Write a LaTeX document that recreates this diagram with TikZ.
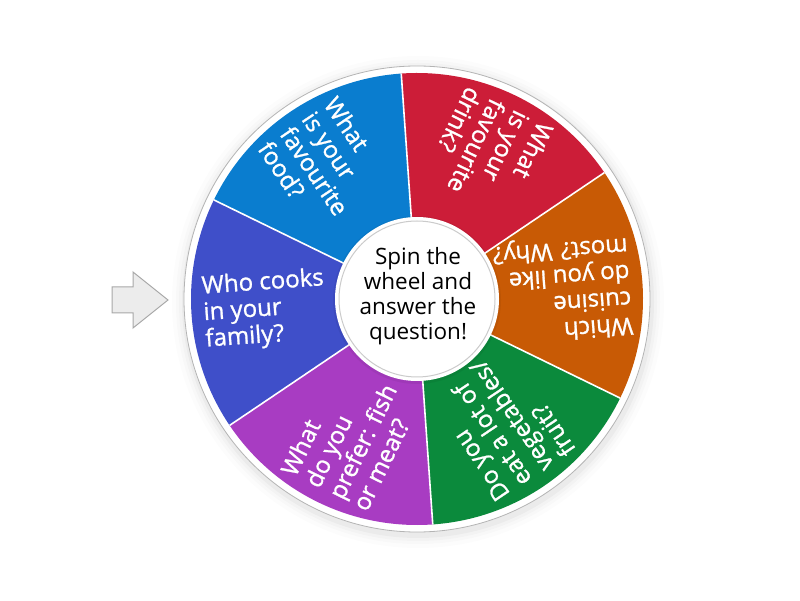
\documentclass[tikz,border=0pt]{standalone}
\usepackage{fontspec}
\setmainfont{Open Sans}
\newfontfamily\qfont{Open Sans}[FakeBold=1.1]
\definecolor{cblue}{HTML}{0A7DCF}
\definecolor{cred}{HTML}{CC1D38}
\definecolor{corange}{HTML}{C85A05}
\definecolor{cgreen}{HTML}{0B8A3C}
\definecolor{cpurple}{HTML}{A83CC2}
\definecolor{cviolet}{HTML}{3F4FC9}
\definecolor{arrowfill}{HTML}{ECECEC}
\definecolor{arrowline}{HTML}{A8A8A8}
\definecolor{ringline}{HTML}{B4B4B4}
\tikzset{
  qtext/.style={text=white, align=left, anchor=west, inner sep=0pt,
    font=\qfont\fontsize{24}{26.5}\selectfont},
  ctext/.style={text=black, align=center, inner sep=0pt,
    font=\fontsize{22.5}{25}\selectfont},
  sepline/.style={draw=white, line width=1.6pt},
}
\begin{document}
\begin{tikzpicture}[x=1pt,y=1pt]
\useasboundingbox (0,0) rectangle (800,600);
\fill[white] (0,0) rectangle (800,600);
% pointer arrow
\draw[fill=arrowfill, draw=arrowline, line width=1pt, line join=miter]
  (112,313) -- (133,313) -- (133,328) -- (168,300) -- (133,272) -- (133,287) -- (112,287) -- cycle;
\begin{scope}[shift={(417,301)}]
  % soft shadow
  \foreach \r/\o in {246/0.012,242/0.015,239/0.02,236/0.03}{
    \fill[black, opacity=\o] (1,-3) circle (\r);
  }
  \fill[white] (0,0) circle (233);
  \draw[ringline, line width=0.8pt] (0,0) circle (233);
  % sectors
  \foreach \a/\c in {94/cblue,34/cred,-26/corange,-86/cgreen,-146/cpurple,154/cviolet}{
    \fill[\c] (0,0) -- (\a:226) arc[start angle=\a, delta angle=60, radius=226] -- cycle;
  }
  \foreach \a in {94,34,-26,-86,-146,154}{
    \draw[sepline] (0,0) -- (\a:226);
  }
  % centre
  \fill[black, opacity=0.05] (0,-1) circle (84);
  \fill[white] (0,0) circle (82);
  \draw[draw=ringline!70, fill=white, line width=1pt] (0,0) circle (78);
  \node[ctext] (c) at (1,3) {Spin the\\wheel and\\answer the\\question!};
  % questions
  \node[qtext, rotate=304] (q1) at (124:214) {What\\is your\\favourite\\food?};
  \node[qtext, rotate=244] (q2) at (64:214) {What\\is your\\favourite\\drink?};
  \node[qtext, rotate=184] (q3) at (4:214) {Which\\cuisine\\do you like\\most? Why?};
  \node[qtext, rotate=124] (q4) at (-56:214) {Do you\\eat a lot of\\vegetables/\\fruit?};
  \node[qtext, rotate=64] (q5) at (-116:214) {What\\do you\\prefer: fish\\or meat?};
  \node[qtext, rotate=4] (q6) at (184:214) {Who cooks\\in your\\family?};
\end{scope}
\end{tikzpicture}
\end{document}
